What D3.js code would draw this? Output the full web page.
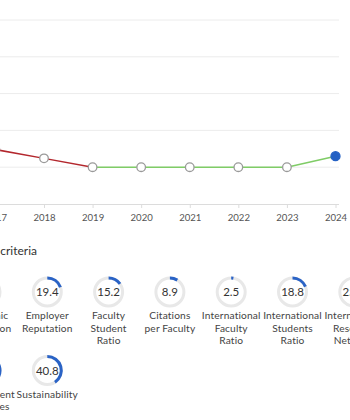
<!DOCTYPE html>
<html>
<head>
<meta charset="utf-8">
<script src="https://cdn.jsdelivr.net/npm/d3@7"></script>
<style>
  body { margin: 0; background: #fff; }
  svg { display: block; font-family: Lato, "Open Sans", sans-serif; }
</style>
</head>
<body>
<div id="chart"></div>
<script>
// rank history (lower rank number = better)
const years = [2016, 2017, 2018, 2019, 2020, 2021, 2022, 2023, 2024];
const ranks = [860, 880, 940, 1000, 1000, 1000, 1000, 1000, 925];
const gridRanks = [0, 250, 500, 750, 1000, 1250];

// criteria scores
const criteria = ["Academic Reputation", "Employer Reputation", "Faculty Student Ratio",
    "Citations per Faculty", "International Faculty Ratio", "International Students Ratio",
    "International Research Network", "Employment Outcomes", "Sustainability"];
const scores = [10.5, 19.4, 15.2, 8.9, 2.5, 18.8, 25.3, 45.6, 40.8];

const width = 350, height = 420;

const svg = d3.select("#chart").append("svg")
    .attr("width", width)
    .attr("height", height);

const x = d3.scaleLinear()
    .domain([2018, 2024])
    .range([44, 335.5]);

const y = d3.scaleLinear()
    .domain([0, 1250])
    .range([20, 204]);

// gridlines
svg.append("g").selectAll("line")
    .data(gridRanks.slice(0, -1))
    .enter().append("line")
    .attr("x1", -60).attr("x2", 339)
    .attr("y1", d => y(d)).attr("y2", d => y(d))
    .style("stroke", "#ececec")
    .style("stroke-width", 1);

const xAxis = svg.append("g")
    .attr("transform", `translate(0, ${y(1250)})`)
    .call(d3.axisBottom(x).tickValues(years).tickFormat(d3.format("d")).tickSize(4).tickPadding(6));
xAxis.select(".domain").attr("d", `M-60,0.5H339`).style("stroke", "#dcdcdc");
xAxis.selectAll(".tick line").style("stroke", "#dcdcdc");
xAxis.selectAll("text")
    .style("font-size", "9.6px")
    .style("fill", "#555")
    .style("font-family", "Lato, sans-serif");

// line segments: red when rank worsens, green otherwise
const pts = years.map((yr, i) => ({ year: yr, rank: ranks[i] }));
const segs = d3.pairs(pts);
svg.append("g").selectAll("line")
    .data(segs)
    .enter().append("line")
    .attr("x1", d => x(d[0].year)).attr("y1", d => y(d[0].rank))
    .attr("x2", d => x(d[1].year)).attr("y2", d => y(d[1].rank))
    .style("stroke", d => d[1].rank > d[0].rank ? "#b3272d" : "#7fcc66")
    .style("stroke-width", 1.5);

svg.append("g").selectAll("circle")
    .data(pts)
    .enter().append("circle")
    .attr("cx", d => x(d.year))
    .attr("cy", d => y(d.rank))
    .attr("r", (d, i) => i === pts.length - 1 ? 4.5 : 4.3)
    .style("fill", (d, i) => i === pts.length - 1 ? "#2461c4" : "#fff")
    .style("stroke", (d, i) => i === pts.length - 1 ? "#2461c4" : "#9a9a9a")
    .style("stroke-width", 1.3);

// criteria section
svg.append("text")
    .attr("x", 37).attr("y", 255)
    .attr("text-anchor", "end")
    .style("font-size", "12px")
    .style("fill", "#333")
    .text("Ranking criteria");

const perRow = 7;
const colX = i => -14 + (i % perRow) * 61.3;
const rowY = i => 292 + Math.floor(i / perRow) * 78.5;
const arc = d3.arc().innerRadius(12.5).outerRadius(15.5).startAngle(0);

const gauges = svg.append("g").selectAll("g")
    .data(criteria)
    .enter().append("g")
    .attr("transform", (d, i) => `translate(${colX(i)}, ${rowY(i)})`);

gauges.append("circle")
    .attr("r", 14)
    .style("fill", "none")
    .style("stroke", "#e8e8e8")
    .style("stroke-width", 3);

gauges.append("path")
    .attr("d", (d, i) => arc({ endAngle: 2 * Math.PI * scores[i] / 100 }))
    .style("fill", "#2a63c6");

gauges.append("text")
    .attr("dy", "0.35em")
    .attr("text-anchor", "middle")
    .style("font-size", "11.5px")
    .style("fill", "#333")
    .text((d, i) => scores[i]);

// wrap labels into lines that fit the column
const maxW = 57;
gauges.each(function(d) {
    const g = d3.select(this);
    const t = g.append("text")
        .attr("text-anchor", "middle")
        .style("font-size", "10.2px")
        .style("letter-spacing", "0.15px")
        .style("fill", "#444");
    const words = d.split(" ");
    let lines = [], cur = [];
    const probe = t.append("tspan");
    words.forEach(w => {
        const test = cur.concat(w).join(" ");
        probe.text(test);
        if (probe.node().getComputedTextLength() > maxW && cur.length) {
            lines.push(cur.join(" "));
            cur = [w];
        } else {
            cur.push(w);
        }
    });
    lines.push(cur.join(" "));
    probe.remove();
    lines.forEach((ln, k) => {
        t.append("tspan")
            .attr("x", 0)
            .attr("y", 27 + k * 12.6)
            .text(ln);
    });
});
</script>
</body>
</html>
